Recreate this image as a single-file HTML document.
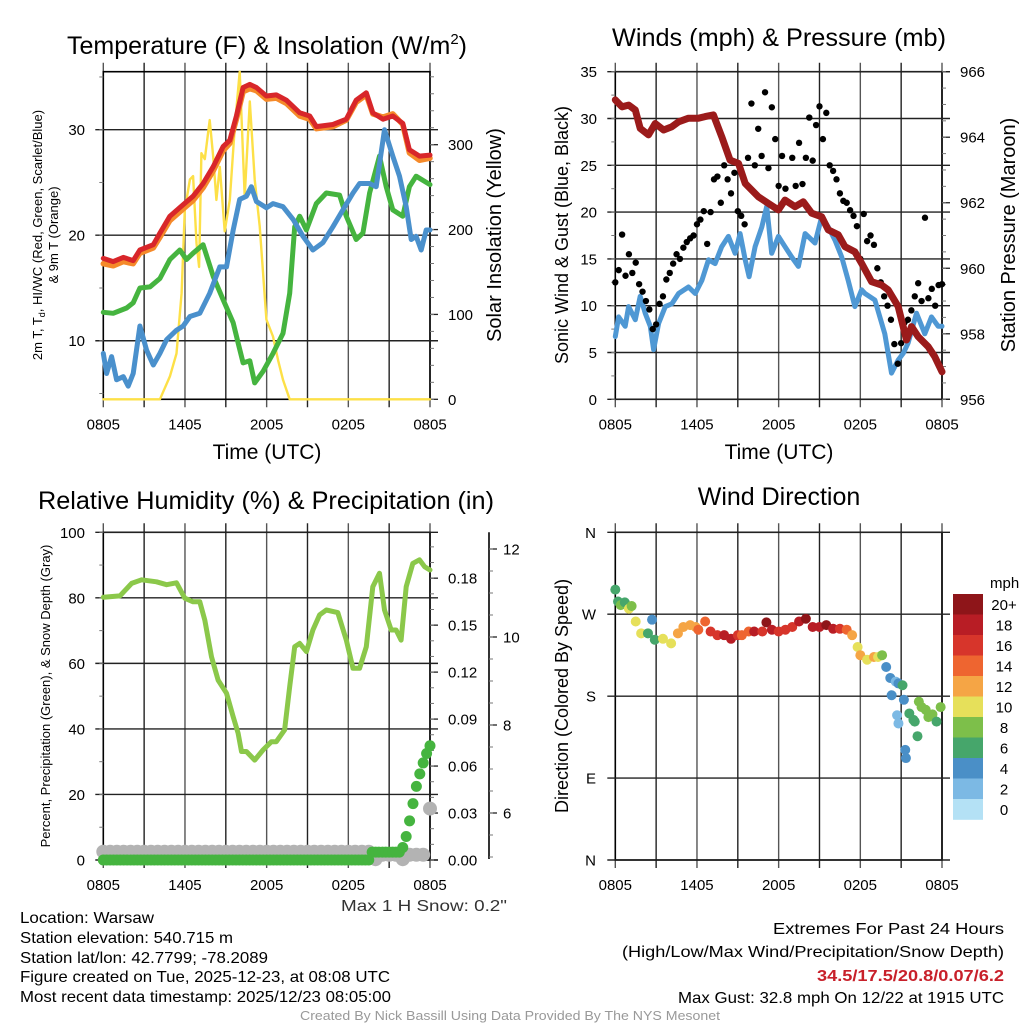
<!DOCTYPE html>
<html><head><meta charset="utf-8"><title>Mesonet Station Plot</title>
<style>
html,body{margin:0;padding:0;background:#fff;}
svg{display:block;font-family:"Liberation Sans",sans-serif;}
</style></head>
<body>
<svg id="fig" width="1024" height="1024" viewBox="0 0 1024 1024" xmlns="http://www.w3.org/2000/svg">
<rect x="0" y="0" width="1024" height="1024" fill="#fff"/>
<text x="267" y="54" font-size="25" text-anchor="middle" textLength="400" lengthAdjust="spacingAndGlyphs">Temperature (F) &amp; Insolation (W/m<tspan font-size="15" dy="-10">2</tspan><tspan dy="10">)</tspan></text>
<text x="779" y="46" font-size="25" text-anchor="middle" textLength="334" lengthAdjust="spacingAndGlyphs">Winds (mph) &amp; Pressure (mb)</text>
<text x="266" y="509" font-size="25" text-anchor="middle" textLength="456" lengthAdjust="spacingAndGlyphs">Relative Humidity (%) &amp; Precipitation (in)</text>
<text x="779" y="505" font-size="25" text-anchor="middle">Wind Direction</text>

<text x="267" y="459" font-size="21" text-anchor="middle">Time (UTC)</text>
<text x="779" y="459" font-size="21" text-anchor="middle">Time (UTC)</text>

<text transform="translate(42,235) rotate(-90)" font-size="13" text-anchor="middle">2m T, T<tspan font-size="9" dy="3">d</tspan><tspan dy="-3">, HI/WC (Red, Green, Scarlet/Blue)</tspan></text>
<text transform="translate(58,235) rotate(-90)" font-size="13" text-anchor="middle">&amp; 9m T (Orange)</text>
<text transform="translate(501,235) rotate(-90)" font-size="20" text-anchor="middle">Solar Insolation (Yellow)</text>
<text transform="translate(568,235) rotate(-90)" font-size="18" text-anchor="middle">Sonic Wind &amp; Gust (Blue, Black)</text>
<text transform="translate(1015,235) rotate(-90)" font-size="20" text-anchor="middle">Station Pressure (Maroon)</text>
<text transform="translate(50,696) rotate(-90)" font-size="13" text-anchor="middle">Percent, Precipitation (Green), &amp; Snow Depth (Gray)</text>
<text transform="translate(568,696) rotate(-90)" font-size="18" text-anchor="middle">Direction (Colored By Speed)</text>

<text x="341" y="911" font-size="16" textLength="166" lengthAdjust="spacingAndGlyphs" fill="#333">Max 1 H Snow: 0.2"</text>
<g font-size="16">
<text x="20" y="923" textLength="134" lengthAdjust="spacingAndGlyphs">Location: Warsaw</text>
<text x="20" y="943" textLength="213" lengthAdjust="spacingAndGlyphs">Station elevation: 540.715 m</text>
<text x="20" y="963" textLength="248" lengthAdjust="spacingAndGlyphs">Station lat/lon: 42.7799; -78.2089</text>
<text x="20" y="982" textLength="370" lengthAdjust="spacingAndGlyphs">Figure created on Tue, 2025-12-23, at 08:08 UTC</text>
<text x="20" y="1002" textLength="371" lengthAdjust="spacingAndGlyphs">Most recent data timestamp: 2025/12/23 08:05:00</text>
</g>
<g font-size="16">
<text x="773" y="934" textLength="231" lengthAdjust="spacingAndGlyphs">Extremes For Past 24 Hours</text>
<text x="622" y="957" textLength="382" lengthAdjust="spacingAndGlyphs">(High/Low/Max Wind/Precipitation/Snow Depth)</text>
<text x="817" y="981" textLength="187" lengthAdjust="spacingAndGlyphs" fill="#c8202a" font-weight="bold">34.5/17.5/20.8/0.07/6.2</text>
<text x="678" y="1003" textLength="326" lengthAdjust="spacingAndGlyphs">Max Gust: 32.8 mph On 12/22 at 1915 UTC</text>
</g>
<text x="300" y="1020" font-size="13" textLength="420" lengthAdjust="spacingAndGlyphs" fill="#999">Created By Nick Bassill Using Data Provided By The NYS Mesonet</text>
</svg>
<script>
// ---------- data ----------
const timeTickLabels = ["0805","1405","2005","0205","0805"];
const tempTicks = [10,20,30];
const insolTicks = [0,100,200,300];
const windTicks = [0,5,10,15,20,25,30,35];
const presTicks = [956,958,960,962,964,966];
const rhTicks = [0,20,40,60,80,100];
const precipTicks = [0,0.03,0.06,0.09,0.12,0.15,0.18];
const precipTickLabels = ["0.00","0.03","0.06","0.09","0.12","0.15","0.18"];
const snowTicks = [6,8,10,12];
const dirTicks = [0,90,180,270,360];
const dirTickLabels = ["N","E","S","W","N"];
const speedBinLabels = ["0","2","4","6","8","10","12","14","16","18","20+"];

const tempHours = [0,0.73,1.47,2.2,2.69,3.67,4.16,4.89,5.87,6.6,7.33,8.07,8.8,9.29,9.78,10.27,10.76,11.25,11.98,12.71,13.45,14.43,15.16,15.65,16.87,17.85,18.58,19.32,19.8,20.54,21.27,22,22.49,23.23,24];
const tempVals = [17.8,17.5,17.9,17.6,18.6,19.1,20.2,21.8,22.9,23.7,24.9,26.5,28.4,29,31.3,34,34.3,34,33.2,33.3,32.8,31.6,31.3,30.3,30.5,31,32.8,33.5,31.6,31,31.3,30.6,28.1,27.5,27.6];
const temp9mVals = [17.3,17.1,17.5,17.3,18.3,18.8,19.8,21.4,22.5,23.3,24.5,26.1,28,28.7,31,33.6,33.9,33.7,32.9,33,32.5,31.3,31,30.1,30.3,30.9,32.6,33.3,31.5,31.2,31.5,30.5,27.8,27.1,27.3];
const dewHours = [0,0.73,1.71,2.2,2.69,3.42,4.16,4.89,5.62,6.11,6.6,7.33,8.07,8.8,9.54,9.9,10.27,10.76,11.12,11.74,12.47,13.2,13.69,14.06,14.43,14.92,15.65,16.38,17.36,17.85,18.58,19.07,19.56,20.29,20.78,21.27,22,22.49,22.98,24];
const dewVals = [12.7,12.6,13.1,13.6,15,15.1,15.9,17.7,18.6,17.7,18.3,19.1,16.1,13.9,11.7,9.8,7.9,8.1,6,7.1,8.8,10.7,14.5,20.8,21.8,20.5,23,24,23.8,21.8,19.6,20.2,24,27.5,24.6,22.4,21.8,24.6,25.6,24.8];
const wcHours = [0,0.24,0.61,0.98,1.47,1.83,2.2,2.69,3.18,3.67,4.16,4.65,5.38,5.87,6.36,7.09,7.82,8.56,9.05,9.54,10.02,10.51,10.88,11.25,11.98,12.47,13.2,13.94,14.67,15.4,16.14,16.87,17.6,18.34,18.83,19.56,20.05,20.66,21.27,21.76,22.25,22.62,22.98,23.35,23.72,24];
const wcVals = [8.8,6.9,8.5,6.3,6.6,5.7,6.9,11.4,9.1,7.7,8.8,10.1,11,11.4,12.3,12.6,14.5,17,17,20.5,23.4,23.7,24.6,23.2,22.6,23,22.7,21.5,19.9,18.6,19.3,20.8,22.4,24,24.9,24.9,24.6,30,27.5,25.6,22.7,19.6,19.9,18.6,20.5,20.5];
const insolHours = [0,4.16,4.89,5.38,5.75,5.99,6.36,6.6,6.85,7.04,7.21,7.46,7.82,8.07,8.31,8.56,8.92,9.29,9.66,10.02,10.39,10.76,11.12,11.49,11.98,12.47,12.84,13.2,13.69,24];
const insolVals = [0,0,27,54,125,223,259,263,184,156,290,283,329,286,235,274,198,235,321,386,239,351,259,204,94,74,46,23,0,0];

const presHours = [0,0.49,0.98,1.47,1.83,2.44,2.93,3.55,4.16,4.65,5.38,6.11,6.6,7.21,7.82,8.43,9.05,9.54,10.51,11.25,11.98,12.47,13.2,13.81,14.43,15.16,15.65,16.38,16.87,17.6,18.09,18.83,19.56,20.05,20.78,21.15,21.39,21.76,22.25,22.98,23.47,24];
const presVals = [965.14,964.93,964.98,964.83,964.27,964.07,964.42,964.22,964.32,964.47,964.58,964.58,964.63,964.68,964.02,963.3,963.2,962.59,962.18,961.98,961.78,962.08,961.88,962.03,961.68,961.57,961.17,961.02,960.66,960.5,960.15,959.59,959.49,959.34,958.83,958.22,957.81,958.22,957.91,957.61,957.3,956.84];
const windHours = [0,0.24,0.73,0.98,1.47,1.83,2.2,2.57,2.81,3.18,3.67,4.16,4.65,5.38,5.87,6.36,6.85,7.33,7.82,8.31,8.8,9.17,9.54,9.83,10.27,10.76,11.12,11.49,11.98,12.47,12.96,13.45,13.94,14.67,15.16,15.65,16.14,16.63,17.11,17.6,18.09,18.34,19.07,19.8,20.29,20.78,21.15,21.51,22.13,22.74,23.23,23.72,24];
const windVals = [6.7,8.8,7.8,9.9,8.5,11,9.2,7.8,5.3,8.1,9.9,10.2,11.3,12,11.3,12.7,14.9,14.5,16.3,17.4,15.6,17.7,14.9,13.1,16.3,18.4,20.6,15.6,17.4,16.3,15.2,14.2,17.7,16.7,19.5,18.4,17,15.2,12.7,9.9,11.7,11.3,10.6,7,2.8,4.2,4.9,6,9.2,7,8.8,7.8,7.8];
// gusts every 15 minutes from 0805
const gustVals = [12.5,13.8,17.6,13.2, 15.5,13.5,14.6,12.3, 11.5,10.5,9.6,7.5, 8,10.2,11,12.8, 13.5,14.5,15.5,15, 16.2,16.8,17.2,17.5, 18.7,19.2,20.1,16.6, 20,23.5,23.8,21, 25,23.5,22,24.2, 20.1,19.6,18.7,25.8, 31.6,25,28.9,26, 32.8,24.7,31.2,27.8, 22.8,26,22.5,21, 25.8,22.8,27.4,23, 25.8,30.1,25.5,29.3, 31.3,27.8,30.6,25, 24.4,23.5,22,21.2, 21,20.2,19.6,18.5, 15,19.8,16.9,17.5, 16.5,14,12.5,11, 10,8.5,5.9,3.8, 6,8.2,8.5,9.5, 11,12.4,10.5,19.4, 10.8,11.8,10,12.2, 12.3];

const rhHours = [0,1.22,2.08,2.81,3.91,4.65,5.38,5.99,6.6,7.09,7.46,7.95,8.43,9.05,9.54,9.9,10.15,10.51,11.12,11.74,12.35,12.71,13.32,13.69,14.06,14.43,14.92,15.4,15.89,16.38,17.23,17.85,18.34,18.83,19.32,19.8,20.29,20.66,21.15,21.51,21.88,22.25,22.74,23.23,23.6,24];
const rhVals = [80.2,80.6,84.4,85.5,84.9,84,84.6,79.9,78.8,78.8,73.2,62,54.9,50.9,43.7,38.7,33.1,33.1,30.5,33.6,36.1,36.1,39.7,52.9,65.1,66.1,63.6,70.2,74.8,76.3,75.5,67.1,58.5,58.5,65.1,83.4,87.5,76.3,70.2,70.2,67.1,83.4,90.5,91.6,89.5,88.5];
// precipitation (in) every 15 minutes from 0805
const precipVals = [0,0,0,0,0,0,0,0,0,0,0,0,0,0,0,0,0,0,0,0,0,0,0,0,0,0,0,0,0,0,0,0,0,0,0,0,0,0,0,0,0,0,0,0,0,0,0,0,0,0,0,0,0,0,0,0,0,0,0,0,0,0,0,0,0,0,0,0,0,0,0,0,0,0,0,0,0,0,0,0.005,0.005,0.005,0.005,0.005,0.005,0.005,0.005,0.005,0.008,0.015,0.025,0.036,0.047,0.055,0.062,0.068,0.073];
// snow depth (in) every 30 minutes from 0805
const snowVals = [5.12,5.12,5.12,5.12,5.12,5.12,5.12,5.12,5.12,5.12,5.12,5.12,5.12,5.12,5.12,5.12,5.12,5.12,5.12,5.12,5.12,5.12,5.12,5.12,5.12,5.12,5.12,5.12,5.12,5.12,5.12,5.12,5.12,5.12,5.12,5.12,5.12,5.12,5.12,5.12,4.95,5.05,5.05,5.05,4.95,5.05,5.05,5.05,6.1];

const dirHours = [0,0.2,0.4,0.7,1,1.2,1.5,1.9,2.4,2.7,2.9,3.5,4.1,4.6,5,5.5,5.9,6.1,6.6,7,7.5,8,8.5,9,9.3,9.8,10.2,10.8,11.1,11.5,12,12.5,13,13.5,14,14.5,15,15.5,16,16.5,17,17.4,17.8,18,18.5,19,19.3,19.6,19.9,20.2,20.3,20.6,20.7,20.8,20.8,21.1,21.2,21.3,21.35,21.6,21.9,22,22.2,22.3,22.5,22.8,23,23.3,23.6,23.9];
const dirVals = [297,284,280,283,276,279,262,249,249,264,242,243,238,249,256,258,256,253,262,251,247,247,243,247,247,251,251,251,261,253,251,253,256,262,265,256,256,258,254,254,253,247,234,225,220,223,223,225,212,200,181,196,159,194,150,192,176,121,112,161,154,152,136,174,168,165,157,160,152,168];
const dirSpeeds = [6,7,8,7,10,8,10,10,6,4,6,10,10,12,12,13,12,14,14,16,16,18,18,16,14,14,18,16,21,18,16,16,16,18,21,18,18,21,18,16,14,12,10,12,10,12,10,8,4,4,4,2,2,4,2,6,4,4,4,6,6,6,6,8,8,8,8,8,6,8];
const speedColors = ["#b4e1f5","#7cb9e4","#4a8fc7","#46a66b","#7dbf4a","#e6e05a","#f5a545","#ee6530","#d7352b","#b81d25","#8e1519"];

// ---------- helpers ----------
const NS = "http://www.w3.org/2000/svg";
const svg = document.getElementById("fig");
function mk(tag, attrs, parent) {
  const e = document.createElementNS(NS, tag);
  for (const k in attrs) e.setAttribute(k, attrs[k]);
  (parent || svg).appendChild(e);
  return e;
}
function grp(name) {
  const g = mk("g", {});
  
  
  return g;
}
const TL = {x0:103.3, x1:430, y0:71.7, y1:399.3};
const TR = {x0:615.3, x1:942, y0:71.7, y1:399.3};
const BL = {x0:103.3, x1:430, y0:532.3, y1:860};
const BR = {x0:615.3, x1:942, y0:532.3, y1:860};
function xScale(p){ return h => p.x0 + h/24*(p.x1-p.x0); }
function lin(d0,d1,p){ return v => p.y1 - (v-d0)/(d1-d0)*(p.y1-p.y0); }

const xTL = xScale(TL), xTR = xScale(TR), xBL = xScale(BL), xBR = xScale(BR);
const yTemp = lin(4.45, 35.5, TL);
const yInsol = lin(0, 386, TL);
const yWind = lin(0, 35, TR);
const yPres = lin(956, 966, TR);
const yRH = lin(0, 100, BL);
const yPrecip = lin(0, 0.2093, BL);
const ySnow = v => 813 - (v-6)*44;
const yDir = lin(0, 360, BR);

function frame(p, xs, name) {
  const g = grp(name + "-frame");
  for (let h = 0; h <= 24; h += 3) {
    const x = xs(h);
    const l = mk("line", {x1:x, x2:x, y1:p.y0-9, y2:p.y1+8, stroke:(h%6===0?"#555":"#222"), "stroke-width":1.4}, g);
    
    
  }
  for (let i = 0; i < timeTickLabels.length; i++) {
    const t = mk("text", {x:xs(i*6), y:p.y1+30, "font-size":15, "text-anchor":"middle"}, g);
    t.textContent = timeTickLabels[i];
    
    
  }
  const r = mk("rect", {x:p.x0, y:p.y0, width:p.x1-p.x0, height:p.y1-p.y0, fill:"none", stroke:"#000", "stroke-width":1.6}, g);
  
  
  return g;
}
function hgrid(p, ys, ticks, name) {
  const g = grp(name);
  ticks.forEach(v => {
    const y = ys(v);
    const l = mk("line", {x1:p.x0-8, x2:p.x1+8, y1:y, y2:y, stroke:"#222", "stroke-width":1.4}, g);
    
    
  });
}
function axisLabels(ticks, labels, ys, x, anchor, name, size) {
  const g = grp(name);
  ticks.forEach((v,i) => {
    const t = mk("text", {x:x, y:ys(v)+5.5, "font-size":size||15, "text-anchor":anchor}, g);
    t.textContent = labels ? labels[i] : String(v);
    
    
  });
}
function minorTicks(x, dir, ys, lo, hi, step, name) {
  const g = grp(name);
  for (let v = lo; v <= hi + 1e-9; v += step) {
    const y = ys(v);
    const l = mk("line", {x1:x, x2:x+dir*4, y1:y, y2:y, stroke:"#777", "stroke-width":1}, g);
    
    
  }
}
function majorTicks(x, dir, ys, ticks, name) {
  const g = grp(name);
  ticks.forEach(v => {
    const y = ys(v);
    const l = mk("line", {x1:x, x2:x+dir*8, y1:y, y2:y, stroke:"#222", "stroke-width":1.3}, g);
    
    
  });
}
function linePath(hours, vals, xs, ys, color, width, name, parent) {
  let d = "";
  hours.forEach((h,i) => { d += (i ? "L" : "M") + xs(h).toFixed(1) + "," + ys(vals[i]).toFixed(1); });
  const p = mk("path", {d:d, fill:"none", stroke:color, "stroke-width":width, "stroke-linejoin":"round", "stroke-linecap":"round"}, parent);
  
  
  return p;
}

// ---------- Panel 1: temperature ----------
frame(TL, xTL, "temperature");
hgrid(TL, yTemp, tempTicks, "temperature-hgrid");
minorTicks(TL.x0, -1, yTemp, 5, 35, 5, "temperature-left-minor-ticks");
axisLabels(tempTicks, null, yTemp, 85, "end", "temperature-y-tick-labels");
majorTicks(TL.x1, 1, yInsol, insolTicks, "insolation-major-ticks");
minorTicks(TL.x1, 1, yInsol, 0, 380, 20, "insolation-minor-ticks");
axisLabels(insolTicks, null, yInsol, 448, "start", "insolation-tick-labels");
const tempSeries = grp("temperature-series");
linePath(insolHours, insolVals, xTL, yInsol, "#fde047", 2.4, "insolation-line", tempSeries);
linePath(dewHours, dewVals, xTL, yTemp, "#45b43f", 5, "dewpoint-line", tempSeries);
linePath(wcHours, wcVals, xTL, yTemp, "#4a90cc", 5, "wind-chill-line", tempSeries);
linePath(tempHours, temp9mVals, xTL, yTemp, "#f58a2a", 5.5, "temp-9m-line", tempSeries);
linePath(tempHours, tempVals, xTL, yTemp, "#d8262a", 5, "temp-2m-line", tempSeries);

// ---------- Panel 2: winds & pressure ----------
frame(TR, xTR, "winds");
hgrid(TR, yWind, windTicks, "winds-hgrid");
minorTicks(TR.x0, -1, yWind, 0, 35, 2.5, "winds-left-minor-ticks");
axisLabels(windTicks, null, yWind, 597, "end", "wind-tick-labels");
majorTicks(TR.x1, 1, yPres, presTicks, "pressure-major-ticks");
minorTicks(TR.x1, 1, yPres, 956, 966, 0.5, "pressure-minor-ticks");
axisLabels(presTicks, null, yPres, 960, "start", "pressure-tick-labels");
const windSeries = grp("wind-series");
linePath(windHours, windVals, xTR, yWind, "#4f98d4", 5, "sonic-wind-line", windSeries);
gustVals.forEach((v,i) => {
  const c = mk("circle", {cx:xTR(i*0.25), cy:yWind(v), r:3.2, fill:"#000"}, windSeries);
  
  
});
linePath(presHours, presVals, xTR, yPres, "#9b1b1b", 7, "pressure-line", windSeries);

// ---------- Panel 3: humidity & precip ----------
frame(BL, xBL, "humidity");
hgrid(BL, yRH, rhTicks, "humidity-hgrid");
minorTicks(BL.x0, -1, yRH, 0, 100, 10, "humidity-left-minor-ticks");
axisLabels(rhTicks, null, yRH, 85, "end", "humidity-tick-labels");
majorTicks(BL.x1, 1, yPrecip, precipTicks, "precip-major-ticks");
minorTicks(BL.x1, 1, yPrecip, 0, 0.2, 0.01, "precip-minor-ticks");
axisLabels(precipTicks, precipTickLabels, yPrecip, 448, "start", "precip-tick-labels");
const snowAxis = mk("line", {x1:489, x2:489, y1:532.3, y2:859, stroke:"#000", "stroke-width":1.6});


majorTicks(489, 1, ySnow, snowTicks, "snow-major-ticks");
minorTicks(489, 1, ySnow, 5, 12, 0.5, "snow-minor-ticks");
axisLabels(snowTicks, null, ySnow, 503, "start", "snow-tick-labels");
const humSeries = grp("humidity-series");
linePath(rhHours, rhVals, xBL, yRH, "#8bc84a", 5, "rh-line", humSeries);
snowVals.forEach((v,i) => {
  const c = mk("circle", {cx:xBL(i*0.5), cy:ySnow(v), r:7, fill:"#b3b3b3"}, humSeries);
  
  
});
precipVals.forEach((v,i) => {
  const c = mk("circle", {cx:xBL(i*0.25), cy:yPrecip(v), r:5.5, fill:"#45b43f"}, humSeries);
  
  
});

// ---------- Panel 4: wind direction ----------
frame(BR, xBR, "direction");
hgrid(BR, yDir, dirTicks, "direction-hgrid");
axisLabels(dirTicks, dirTickLabels, yDir, 596, "end", "direction-tick-labels");
const dirSeries = grp("direction-series");
dirVals.forEach((v,i) => {
  const bin = Math.max(0, Math.min(10, Math.floor(dirSpeeds[i]/2)));
  const c = mk("circle", {cx:xBR(dirHours[i]), cy:yDir(v), r:5, fill:speedColors[bin]}, dirSeries);
  
  
});
const cbar = grp("speed-colorbar");
const cbTop = 594, cbH = 20.5;
for (let i = 0; i < 11; i++) {
  const idx = 10 - i;
  const r = mk("rect", {x:953, y:cbTop + i*cbH, width:30, height:cbH+0.3, fill:speedColors[idx]}, cbar);
  
  
  const t = mk("text", {x:1004, y:cbTop + i*cbH + cbH/2 + 5.5, "font-size":15, "text-anchor":"middle"}, cbar);
  t.textContent = speedBinLabels[idx];
  
  
}
const cbt = mk("text", {x:990, y:588, "font-size":15}, cbar);
cbt.textContent = "mph";


</script>
</body></html>
